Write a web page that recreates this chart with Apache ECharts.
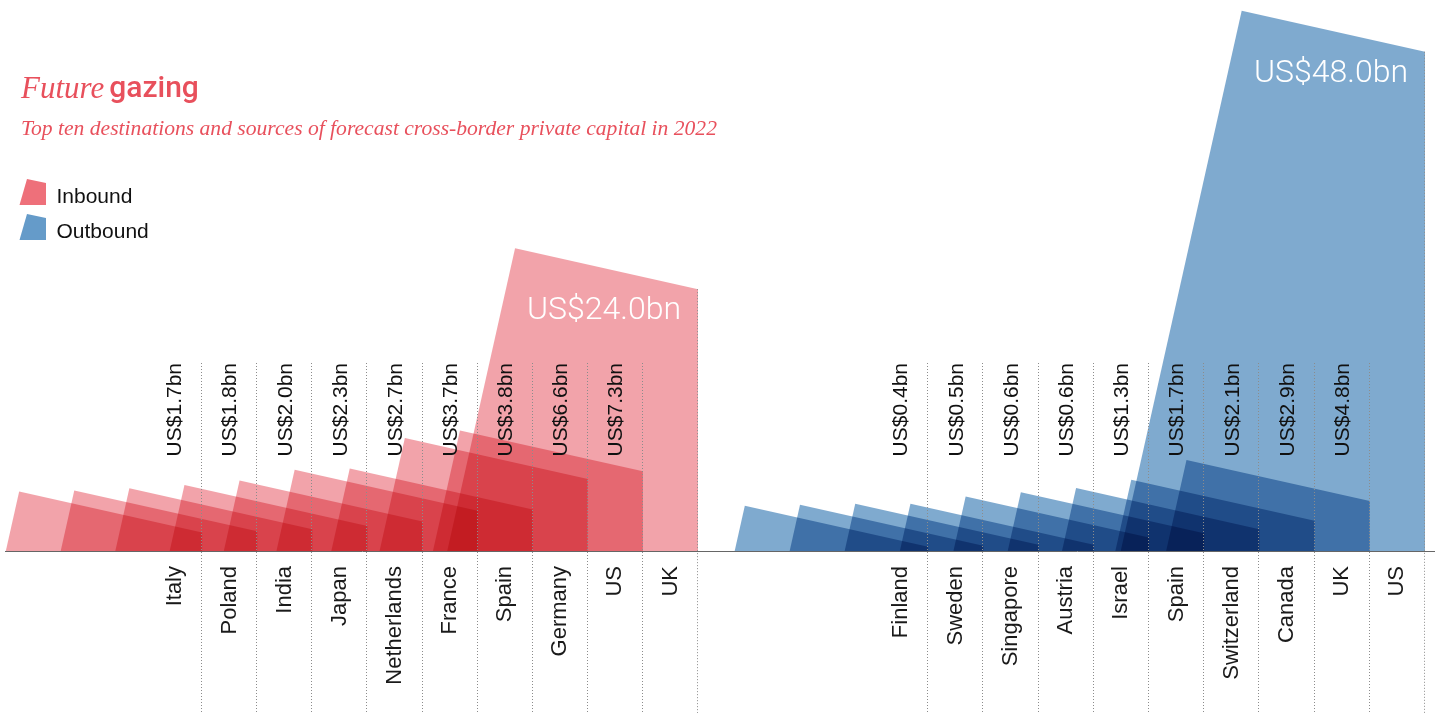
<!DOCTYPE html>
<html><head><meta charset="utf-8">
<script src="https://cdn.jsdelivr.net/npm/echarts@6/dist/echarts.min.js"></script>
<style>html,body{margin:0;padding:0;background:#fff}#c{width:1435px;height:713px}</style>
</head><body><div id="c"></div>
<script>
// ---- data ----
const inboundCountries = ['Italy','Poland','India','Japan','Netherlands','France','Spain','Germany','US','UK'];
const inboundValues = [1.7, 1.8, 2.0, 2.3, 2.7, 3.7, 3.8, 6.6, 7.3, 24.0];
const outboundCountries = ['Finland','Sweden','Singapore','Austria','Israel','Spain','Switzerland','Canada','UK','US'];
const outboundValues = [0.4, 0.5, 0.6, 0.6, 1.3, 1.7, 2.1, 2.9, 4.8, 48.0];
const titleMain = ['Future', 'gazing'];
const subtitle = 'Top ten destinations and sources of forecast cross-border private capital in 2022';
const legendNames = ['Inbound', 'Outbound'];
const legendColors = ['#EE707A', '#659BC9'];

const RED = '#E8505C';
const SANS = "'Liberation Sans', Arial, sans-serif";

function fmt(v) { return 'US$' + v.toFixed(1) + 'bn'; }

function shapeItem(fill) {
  return function (params, api) {
    const i = api.value(0), v = api.value(1);
    const w = api.size([1, 0])[0];
    const top = api.coord([i, v]);
    const base = api.coord([i, 0])[1];
    const xR = top[0] + w / 2, yTR = top[1];
    const W = 3.32 * w, S = 0.224;
    const xTL = xR - W, yTL = yTR - S * W;
    const xBL = xTL - S * (base - yTL);
    return {
      type: 'polygon',
      shape: { points: [[xBL, base], [xTL, yTL], [xR, yTR], [xR, base]] },
      style: { fill: fill }
    };
  };
}

function annoItem(values) {
  const maxV = Math.max.apply(null, values);
  return function (params, api) {
    const i = api.value(0), v = api.value(1);
    const w = api.size([1, 0])[0];
    const top = api.coord([i, v]);
    const xR = top[0] + w / 2, yTR = top[1];
    const lx = Math.round(xR) - 0.5;
    const children = [{
      type: 'line',
      shape: { x1: lx, y1: Math.min(363, yTR), x2: lx, y2: 713 },
      style: { stroke: '#8c8c8c', lineWidth: 1, lineDash: [1, 2] }
    }];
    if (v === maxV) {
      children.push({
        type: 'text', x: xR - 17, y: yTR + 22,
        style: { text: fmt(v), fill: '#fff', fontSize: 32, fontWeight: 300,
                 fontFamily: "Roboto, 'Liberation Sans', sans-serif", align: 'right', verticalAlign: 'middle' }
      });
    } else {
      children.push({
        type: 'text', x: top[0] + 1, y: 363, rotation: Math.PI / 2,
        style: { text: fmt(v), fill: '#111', fontSize: 21, fontFamily: SANS,
                 align: 'right', verticalAlign: 'middle' }
      });
    }
    return { type: 'group', children: children };
  };
}

function xAxisFor(gridIndex, cats) {
  return {
    type: 'category', gridIndex: gridIndex, data: cats, boundaryGap: true,
    axisLine: { show: false }, axisTick: { show: false },
    axisLabel: { rotate: 90, margin: 15, interval: 0, fontSize: 22, color: '#1a1a1a', fontFamily: SANS }
  };
}
function yAxisFor(gridIndex) {
  return { type: 'value', gridIndex: gridIndex, min: 0, max: 50, show: false, splitLine: { show: false } };
}

// legend drawn as graphic (icon + label)
const legendGraphics = [];
legendNames.forEach(function (name, k) {
  const y0 = 179 + k * 35;
  legendGraphics.push({ type: 'polygon', shape: { points: [[19.5, y0 + 26], [27, y0], [46, y0 + 4], [46, y0 + 26]] },
                        style: { fill: legendColors[k] } });
  legendGraphics.push({ type: 'text', x: 56.5, y: y0 + 18.5,
                        style: { text: name, fill: '#111', fontSize: 21, fontFamily: SANS, align: 'left', verticalAlign: 'middle' } });
});

const chart = echarts.init(document.getElementById('c'), null, { renderer: 'canvas' });
chart.setOption({
  backgroundColor: '#ffffff',
  animation: false,
  title: [
    { text: '{a|' + titleMain[0] + '} {b|' + titleMain[1] + '}', left: 16, top: 69,
      textStyle: { rich: {
        a: { fontFamily: "'Liberation Serif', serif", fontStyle: 'italic', fontWeight: 'normal', fontSize: 31, color: RED },
        b: { fontFamily: "Roboto, 'Liberation Sans', sans-serif", fontWeight: 500, fontSize: 30, color: RED }
      } } },
    { text: subtitle, left: 16, top: 113,
      textStyle: { fontFamily: "'Liberation Serif', serif", fontStyle: 'italic', fontWeight: 'normal', fontSize: 21.6, color: RED } }
  ],
  grid: [
    { left: 147, right: 737, top: 5.5, bottom: 162 },
    { left: 872.9, right: 10, top: 31, bottom: 162 }
  ],
  xAxis: [xAxisFor(0, inboundCountries), xAxisFor(1, outboundCountries)],
  yAxis: [yAxisFor(0), yAxisFor(1)],
  graphic: [{ type: 'line', z: 50, shape: { x1: 5, y1: 551.5, x2: 1435, y2: 551.5 }, style: { stroke: '#666', lineWidth: 1 } }]
           .concat(legendGraphics),
  series: [
    { name: 'Inbound', type: 'custom', xAxisIndex: 0, yAxisIndex: 0, z: 2, blendMode: 'multiply',
      itemStyle: { color: legendColors[0] },
      renderItem: shapeItem('#F2A3AA'), data: inboundValues.map((v, i) => [i, v]) },
    { name: 'Outbound', type: 'custom', xAxisIndex: 1, yAxisIndex: 1, z: 2, blendMode: 'multiply',
      itemStyle: { color: legendColors[1] },
      renderItem: shapeItem('#7FAACF'), data: outboundValues.map((v, i) => [i, v]) },
    { name: 'inLabels', type: 'custom', xAxisIndex: 0, yAxisIndex: 0, z: 5,
      renderItem: annoItem(inboundValues), data: inboundValues.map((v, i) => [i, v]) },
    { name: 'outLabels', type: 'custom', xAxisIndex: 1, yAxisIndex: 1, z: 5,
      renderItem: annoItem(outboundValues), data: outboundValues.map((v, i) => [i, v]) }
  ]
});
</script></body></html>
